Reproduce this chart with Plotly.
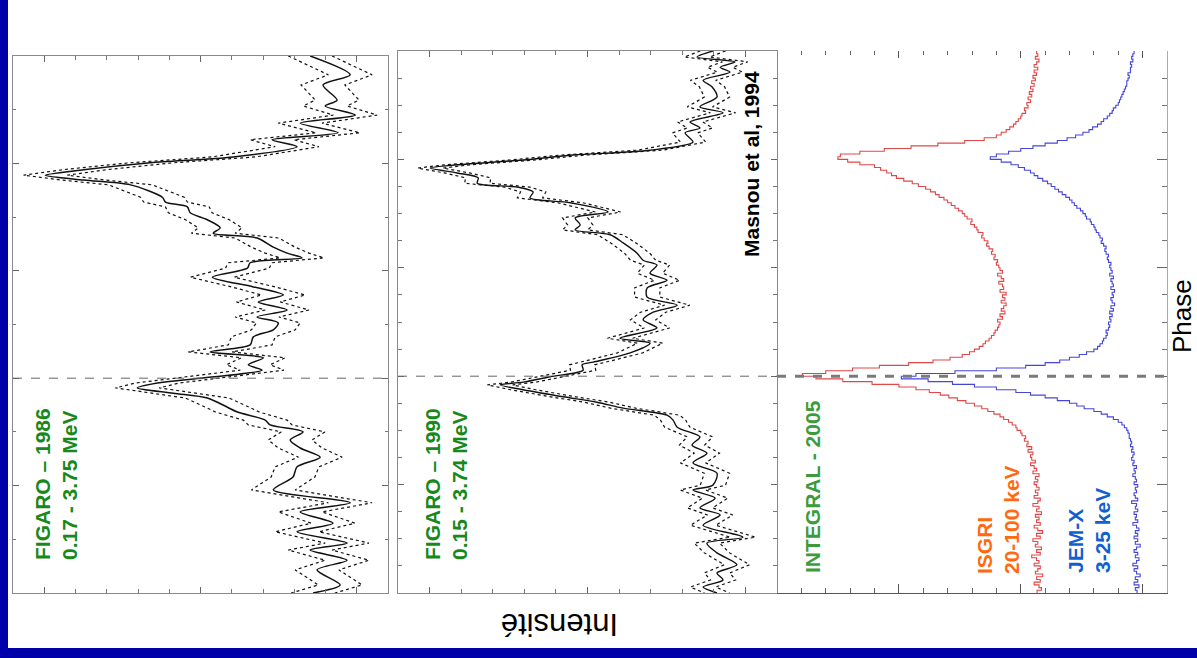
import plotly.graph_objects as go

# ---------------- data ----------------
# FIGARO 1986 (0.17 - 3.75 MeV): phase, smoothed intensity (arb. units)
fig86_phase = [1.0, 0.965, 0.946, 0.918, 0.907, 0.890, 0.875, 0.857, 0.844, 0.831,
               0.812, 0.801, 0.788, 0.778, 0.769, 0.760, 0.737, 0.728, 0.719, 0.708,
               0.695, 0.680, 0.670, 0.661, 0.644, 0.633, 0.624, 0.615, 0.605, 0.588,
               0.570, 0.555, 0.542, 0.527, 0.514, 0.503, 0.490, 0.477, 0.462, 0.449,
               0.438, 0.425, 0.415, 0.400, 0.391, 0.382, 0.372, 0.363, 0.346, 0.337,
               0.322, 0.313, 0.300, 0.285, 0.270, 0.253, 0.235, 0.216, 0.192, 0.168,
               0.151, 0.130, 0.114, 0.093, 0.080, 0.061, 0.043, 0.015, 0.0]
fig86_int = [2.49, 1.21, 2.08, 1.63, 2.01, 1.05, 2.81, 1.60, 3.71, 2.91,
             4.95, 7.60, 9.74, 10.96, 9.74, 8.24, 7.22, 7.12, 6.42, 6.33,
             5.78, 5.37, 5.59, 4.19, 3.67, 3.23, 2.75, 4.41, 4.50, 5.62,
             4.31, 3.35, 4.15, 3.23, 4.19, 3.51, 3.67, 4.31, 4.41, 5.69,
             3.99, 4.47, 4.03, 6.01, 7.38, 8.02, 6.87, 5.78, 5.14, 4.82,
             3.93, 3.77, 2.72, 3.13, 2.81, 2.17, 2.91, 3.04, 3.67, 1.21,
             2.81, 1.76, 2.91, 1.31, 2.49, 1.31, 2.27, 1.53, 2.40]
fig86_err = 0.7

# FIGARO 1990 (0.15 - 3.74 MeV)
fig90_phase = [1.0, 0.989, 0.980, 0.970, 0.961, 0.946, 0.934, 0.915, 0.897, 0.886,
               0.869, 0.858, 0.849, 0.832, 0.817, 0.808, 0.799, 0.790, 0.784, 0.775,
               0.766, 0.756, 0.749, 0.740, 0.729, 0.720, 0.703, 0.692, 0.679, 0.670,
               0.661, 0.646, 0.627, 0.614, 0.605, 0.590, 0.577, 0.563, 0.546, 0.531,
               0.518, 0.504, 0.489, 0.470, 0.461, 0.443, 0.426, 0.421, 0.411, 0.399,
               0.389, 0.384, 0.375, 0.362, 0.352, 0.341, 0.328, 0.319, 0.306, 0.288,
               0.273, 0.258, 0.240, 0.221, 0.199, 0.190, 0.175, 0.157, 0.144, 0.125,
               0.103, 0.092, 0.074, 0.052, 0.037, 0.024, 0.011, 0.0]
fig90_int = [2.03, 2.53, 1.33, 1.80, 1.49, 2.34, 2.06, 1.90, 2.44, 1.71,
             2.75, 2.44, 2.91, 2.66, 4.02, 6.46, 8.04, 10.13, 10.98, 10.13,
             9.46, 9.49, 8.23, 7.72, 7.82, 6.55, 5.35, 6.39, 6.23, 6.39,
             5.28, 4.87, 4.43, 4.24, 3.80, 4.02, 3.48, 4.11, 4.11, 3.16,
             3.92, 4.24, 3.80, 4.97, 4.02, 4.65, 5.82, 6.17, 6.14, 7.18,
             8.04, 8.77, 8.04, 6.77, 5.70, 4.87, 3.48, 3.29, 3.16, 2.44,
             2.69, 2.22, 2.66, 1.90, 2.03, 2.66, 1.96, 2.44, 1.80, 2.34,
             1.08, 2.22, 1.90, 1.27, 1.90, 1.71, 2.34, 1.90]
fig90_err = 0.4

# INTEGRAL 2005 histograms, phase bins of 0.005
int_phase = [round(i * 0.005, 3) for i in range(201)]
isgri = [5.33, 5.15, 5.25, 5.45, 5.2, 5.35, 5.1, 5.4, 5.3, 5.2,
         5.45, 5.25, 5.35, 5.55, 5.2, 5.35, 5.15, 5.4, 5.3, 5.5,
         5.2, 5.35, 5.1, 5.3, 5.45, 5.2, 5.35, 5.25, 5.4, 5.15,
         5.35, 5.25, 5.5, 5.3, 5.2, 5.45, 5.3, 5.4, 5.25, 5.35,
         5.45, 5.3, 5.4, 5.25, 5.5, 5.35, 5.45, 5.6, 5.4, 5.55,
         5.6, 5.5, 5.7, 5.55, 5.75, 5.7, 5.85, 5.8, 5.95, 6.0,
         6.15, 6.2, 6.35, 6.5, 6.7, 6.85, 7.1, 7.35, 7.6, 7.9,
         8.25, 8.6, 8.95, 9.3, 9.75, 10.3, 11.0, 12.1, 13.3, 14.4,
         14.96, 14.0, 12.9, 11.8, 10.6, 9.6, 8.9, 8.4, 8.1, 7.9,
         7.7, 7.55, 7.45, 7.3, 7.2, 7.1, 7.05, 6.95, 6.9, 6.85,
         6.95, 6.75, 6.85, 6.65, 6.8, 6.7, 6.6, 6.8, 6.65, 6.75,
         6.6, 6.85, 6.7, 6.75, 6.9, 6.7, 6.8, 6.95, 6.75, 6.85,
         6.9, 7.0, 6.95, 7.1, 7.05, 7.2, 7.15, 7.3, 7.4, 7.35,
         7.5, 7.6, 7.55, 7.75, 7.8, 7.9, 8.05, 8.0, 8.2, 8.3,
         8.4, 8.55, 8.7, 8.85, 9.0, 9.15, 9.35, 9.5, 9.7, 9.9,
         10.2, 10.45, 10.8, 11.1, 11.3, 11.5, 11.75, 12.0, 12.6, 13.1,
         13.5, 13.4, 12.6, 11.6, 10.5, 9.4, 8.3, 7.5, 7.0, 6.8,
         6.6, 6.45, 6.3, 6.2, 6.1, 6.0, 5.95, 5.8, 5.85, 5.7,
         5.75, 5.6, 5.7, 5.55, 5.65, 5.5, 5.6, 5.45, 5.55, 5.4,
         5.5, 5.35, 5.45, 5.3, 5.45, 5.35, 5.25, 5.4, 5.3, 5.35,
         5.35]
jemx = [1.23, 1.3, 1.15, 1.35, 1.2, 1.3, 1.1, 1.25, 1.35, 1.2,
        1.4, 1.25, 1.15, 1.3, 1.2, 1.35, 1.25, 1.1, 1.3, 1.2,
        1.35, 1.2, 1.3, 1.15, 1.25, 1.4, 1.2, 1.3, 1.25, 1.35,
        1.2, 1.3, 1.25, 1.45, 1.2, 1.3, 1.35, 1.25, 1.3, 1.2,
        1.35, 1.25, 1.3, 1.4, 1.3, 1.35, 1.25, 1.4, 1.35, 1.45,
        1.4, 1.35, 1.45, 1.4, 1.5, 1.45, 1.5, 1.55, 1.55, 1.6,
        1.65, 1.75, 1.85, 2.0, 2.2, 2.45, 2.7, 3.0, 3.4, 3.7,
        4.0, 4.5, 5.0, 5.6, 6.2, 7.0, 7.9, 8.8, 9.8, 10.9,
        10.3, 8.7, 7.0, 5.8, 5.0, 4.4, 4.0, 3.6, 3.3, 3.0,
        2.85, 2.75, 2.65, 2.6, 2.5, 2.45, 2.5, 2.4, 2.35, 2.4,
        2.3, 2.35, 2.25, 2.35, 2.2, 2.3, 2.15, 2.25, 2.3, 2.2,
        2.25, 2.15, 2.3, 2.2, 2.25, 2.3, 2.2, 2.35, 2.25, 2.3,
        2.35, 2.3, 2.4, 2.45, 2.4, 2.5, 2.55, 2.5, 2.6, 2.7,
        2.65, 2.75, 2.8, 2.9, 2.95, 3.0, 3.1, 3.15, 3.3, 3.35,
        3.45, 3.55, 3.7, 3.8, 3.9, 4.0, 4.15, 4.3, 4.45, 4.6,
        4.75, 4.9, 5.1, 5.3, 5.45, 5.6, 5.85, 6.1, 6.4, 6.8,
        7.25, 7.0, 6.5, 6.0, 5.5, 5.0, 4.5, 4.1, 3.75, 3.45,
        3.2, 3.05, 2.85, 2.7, 2.6, 2.45, 2.35, 2.25, 2.2, 2.1,
        2.0, 1.95, 1.9, 1.85, 1.8, 1.75, 1.7, 1.65, 1.65, 1.6,
        1.55, 1.6, 1.5, 1.5, 1.45, 1.5, 1.4, 1.45, 1.4, 1.35,
        1.35]

pulse_phase = 0.4

# ---------------- layout helpers ----------------
W, H = 1197, 658
def px(v):
    return v / W
def py(v):
    return 1 - v / H

FONT = "Liberation Sans, Arial, sans-serif"
fig = go.Figure()

dot_style = dict(color="#111", width=1.2, dash="dot")
# FIGARO 1986
fig.add_trace(go.Scatter(x=[v + fig86_err for v in fig86_int], y=fig86_phase, mode="lines",
                         line=dot_style, xaxis="x", yaxis="y"))
fig.add_trace(go.Scatter(x=[v - fig86_err for v in fig86_int], y=fig86_phase, mode="lines",
                         line=dot_style, xaxis="x", yaxis="y"))
fig.add_trace(go.Scatter(x=fig86_int, y=fig86_phase, mode="lines",
                         line=dict(color="#111", width=1.5, shape="spline", smoothing=0.8),
                         xaxis="x", yaxis="y"))
# FIGARO 1990
fig.add_trace(go.Scatter(x=[v + fig90_err for v in fig90_int], y=fig90_phase, mode="lines",
                         line=dot_style, xaxis="x2", yaxis="y2"))
fig.add_trace(go.Scatter(x=[v - fig90_err for v in fig90_int], y=fig90_phase, mode="lines",
                         line=dot_style, xaxis="x2", yaxis="y2"))
fig.add_trace(go.Scatter(x=fig90_int, y=fig90_phase, mode="lines",
                         line=dict(color="#111", width=1.4, shape="spline", smoothing=0.8),
                         xaxis="x2", yaxis="y2"))
# INTEGRAL
fig.add_trace(go.Scatter(x=isgri, y=int_phase, mode="lines",
                         line=dict(color="#e04848", width=1.1, shape="vh"), xaxis="x3", yaxis="y3"))
fig.add_trace(go.Scatter(x=jemx, y=int_phase, mode="lines",
                         line=dict(color="#4646dc", width=1.1, shape="vh"), xaxis="x3", yaxis="y3"))
# invisible trace to carry the top tick axis of panel 3
fig.add_trace(go.Scatter(x=[8], y=[0.5], mode="markers", marker=dict(opacity=0),
                         hoverinfo="skip", xaxis="x4", yaxis="y3"))

ydom1 = [py(593), py(56)]
ydom2 = [py(593), py(51)]

base = dict(showgrid=False, zeroline=False, showticklabels=False, fixedrange=True)

fig.update_layout(
    width=W, height=H, margin=dict(l=0, r=0, t=0, b=0),
    paper_bgcolor="white", plot_bgcolor="white", showlegend=False,
    xaxis=dict(**base, domain=[px(13), px(388)], range=[12, 0], anchor="y",
               showline=True, linecolor="#8a8a8a", linewidth=1, mirror="ticks",
               ticks="inside", tickcolor="#666", ticklen=6, tick0=1, dtick=5,
               minor=dict(ticks="inside", dtick=1, ticklen=4, tickcolor="#777")),
    yaxis=dict(**base, domain=ydom1, range=[0, 1], anchor="x",
               showline=True, linecolor="#8a8a8a", linewidth=1, mirror="ticks",
               ticks="inside", tickcolor="#666", ticklen=6, tick0=0, dtick=0.2,
               minor=dict(ticks="inside", dtick=0.1, ticklen=3, tickcolor="#777")),
    xaxis2=dict(**base, domain=[px(398), px(777)], range=[12, 0], anchor="y2",
                showline=True, linecolor="#8a8a8a", linewidth=1, mirror="ticks",
                ticks="inside", tickcolor="#666", ticklen=6, tick0=1, dtick=5,
                minor=dict(ticks="inside", dtick=1, ticklen=4, tickcolor="#777")),
    yaxis2=dict(**base, domain=ydom2, range=[0, 1], anchor="x2",
                showline=True, linecolor="#8a8a8a", linewidth=1, mirror="ticks",
                ticks="inside", tickcolor="#666", ticklen=6, tick0=0, dtick=0.2,
                minor=dict(ticks="inside", dtick=0.05, ticklen=4, tickcolor="#777")),
    xaxis3=dict(**base, domain=[px(777), px(1167)], range=[16, 0], anchor="y3",
                showline=True, linecolor="#555", linewidth=1,
                ticks="inside", tickcolor="#555", ticklen=9, tick0=1, dtick=5,
                minor=dict(ticks="inside", dtick=1, ticklen=5, tickcolor="#666")),
    xaxis4=dict(**base, domain=[px(777), px(1167)], range=[16, 0], anchor="y3",
                overlaying="x3", side="top", showline=False,
                ticks="inside", tickcolor="#555", ticklen=7, tick0=1, dtick=5,
                minor=dict(ticks="inside", dtick=1, ticklen=4, tickcolor="#666")),
    yaxis3=dict(**base, domain=ydom2, range=[0, 1], anchor="x3", side="right",
                showline=True, linecolor="#aaa", linewidth=1,
                ticks="inside", tickcolor="#666", ticklen=10, tick0=0, dtick=0.2,
                minor=dict(ticks="inside", dtick=0.05, ticklen=5, tickcolor="#777")),
)

shapes = [
    # slide frame strips
    dict(type="rect", xref="paper", yref="paper", x0=0, x1=px(8), y0=0, y1=1,
         fillcolor="#0000aa", line=dict(width=0), layer="above"),
    dict(type="rect", xref="paper", yref="paper", x0=0, x1=1, y0=0, y1=py(648),
         fillcolor="#0000aa", line=dict(width=0), layer="above"),
    # pulse reference lines
    dict(type="line", xref="x domain", yref="y", x0=0, x1=1, y0=pulse_phase, y1=pulse_phase,
         line=dict(color="#666", width=1, dash="dash")),
    dict(type="line", xref="x2 domain", yref="y2", x0=0, x1=1.025, y0=pulse_phase, y1=pulse_phase,
         line=dict(color="#666", width=1, dash="dash")),
    dict(type="line", xref="x3 domain", yref="y3", x0=0, x1=1.012, y0=pulse_phase, y1=pulse_phase,
         line=dict(color="#7a7a7a", width=3, dash="dash"), layer="above"),
]
fig.update_layout(shapes=shapes)

def ann(text, x, y, color, size, angle=-90, bold=True, align="left"):
    t = "<br>".join("<b>%s</b>" % s for s in text.split("\n")) if bold else text
    return dict(text=t, x=px(x), y=py(y), xref="paper", yref="paper", showarrow=False,
                textangle=angle, xanchor="center", yanchor="middle", align=align,
                font=dict(family=FONT, size=size, color=color))

fig.update_layout(annotations=[
    ann("FIGARO – 1986\n0.17 - 3.75 MeV", 56, 484, "#17881a", 21),
    ann("FIGARO – 1990\n0.15 - 3.74 MeV", 446, 484, "#17881a", 21),
    ann("INTEGRAL - 2005", 813, 487, "#3c9c3c", 21),
    ann("ISGRI\n20-100 keV", 998, 520, "#ff6a10", 21),
    ann("JEM-X\n3-25 keV", 1089, 531, "#1060d0", 21),
    ann("Masnou et al, 1994", 751, 164, "#000", 21),
    ann("Phase", 1182, 316, "#000", 26, bold=False),
    ann("Intensité", 560, 625, "#000", 31, angle=180, bold=False),
])

fig.write_html("out.html")
